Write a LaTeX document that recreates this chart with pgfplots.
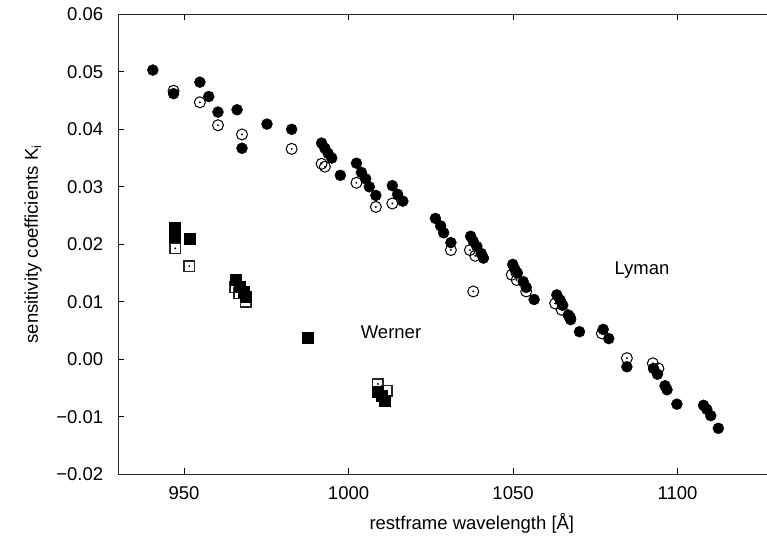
\documentclass[border=0pt]{standalone}
\usepackage{fontspec}
\setmainfont{Liberation Sans}
\usepackage{pgfplots}
\pgfplotsset{compat=1.18}
\usepackage{pgfplotstable}
\pgfplotstableread{
x y
940.5 0.0503
946.8 0.0462
954.8 0.0482
957.5 0.0457
960.3 0.0430
966.1 0.0434
967.6 0.0367
975.2 0.0409
982.7 0.0400
991.8 0.0376
992.8 0.0367
993.8 0.0358
994.9 0.0350
997.5 0.0320
1002.4 0.0341
1003.9 0.0325
1005.2 0.0314
1006.3 0.0300
1008.3 0.0285
1013.3 0.0302
1014.9 0.0287
1016.5 0.0275
1026.4 0.0245
1028.0 0.0232
1028.9 0.0220
1031.1 0.0203
1037.1 0.0214
1037.9 0.0205
1039.0 0.0196
1040.3 0.0184
1041.0 0.0176
1049.9 0.0165
1050.6 0.0156
1051.3 0.0150
1053.1 0.0135
1054.0 0.0125
1056.4 0.0104
1063.3 0.0112
1064.3 0.0103
1065.1 0.0094
1066.8 0.0077
1067.5 0.0069
1070.2 0.0048
1077.4 0.0052
1079.1 0.0036
1084.6 -0.0013
1092.7 -0.0016
1093.9 -0.0026
1096.2 -0.0046
1096.8 -0.0053
1099.8 -0.0078
1107.9 -0.0080
1108.9 -0.0087
1110.1 -0.0098
1112.4 -0.0120
}\lymanfilled
\pgfplotstableread{
x y
946.8 0.0467
954.8 0.0447
960.3 0.0407
967.6 0.0391
982.7 0.0366
991.8 0.0340
992.8 0.0335
1002.4 0.0307
1008.3 0.0265
1013.3 0.0271
1031.1 0.0190
1036.9 0.0190
1038.5 0.0180
1037.9 0.0118
1049.6 0.0147
1051.1 0.0138
1054.0 0.0118
1062.8 0.0097
1064.8 0.0086
1067.3 0.0073
1077.0 0.0045
1084.6 0.0002
1092.5 -0.0007
1094.2 -0.0016
}\lymanopen
\pgfplotstableread{
x y
947.0 0.0228
947.2 0.0213
951.6 0.0209
965.8 0.0139
967.0 0.0127
968.0 0.0118
968.8 0.0108
987.7 0.0037
1008.9 -0.0056
1010.1 -0.0064
1011.1 -0.0072
}\wernerfilled
\pgfplotstableread{
x y
947.3 0.0193
951.6 0.0162
965.5 0.0125
966.8 0.0115
968.8 0.0100
987.7 0.0037
1008.9 -0.0043
1011.6 -0.0055
}\werneropen
\newcommand{\fs}{\fontsize{18.5}{22}\selectfont}
\begin{document}
\begin{tikzpicture}
\begin{axis}[
  at={(0,0)}, anchor=south west,
  scale only axis, width=648.7pt, height=460pt,
  xmin=930, xmax=1127.2, ymin=-0.02, ymax=0.06,
  axis x line=box, axis y line=left,
  axis line style={-, line width=1.2pt, black!85},
  tick align=inside, major tick length=6pt,
  tick style={black, line width=0.8pt},
  scaled x ticks=false, scaled y ticks=false,
  xtick={950,1000,1050,1100},
  xticklabels={950,1000,1050,1100},
  ytick={-0.02,-0.01,0,0.01,0.02,0.03,0.04,0.05,0.06},
  yticklabels={−0.02,−0.01,0.00,0.01,0.02,0.03,0.04,0.05,0.06},
  xticklabel style={font=\fs, inner sep=0pt, anchor=north, yshift=-12.4pt},
  yticklabel style={font=\fs, inner sep=0pt, anchor=east, xshift=-15pt},
  /pgf/number format/assume math mode=true,
  /pgf/number format/1000 sep={},
  xlabel={restframe wavelength [Å]},
  ylabel={sensitivity coefficients K\textsubscript{i}},
  every axis x label/.style={at={(axis description cs:0.545,-0.1059)}, anchor=center, font=\fs},
  every axis y label/.style={at={(axis description cs:-0.1315,0.5)}, rotate=90, anchor=center, font=\fs},
  clip=false,
]
\addplot[only marks, mark=o, mark size=5.5pt, line width=1pt, black] table {\lymanopen};
\addplot[only marks, mark=*, mark size=0.7pt, black] table {\lymanopen};
\addplot[only marks, mark=square, mark size=5.2pt, line width=1.5pt, black!85] table {\werneropen};
\addplot[only marks, mark=*, mark size=0.7pt, black] table {\werneropen};
\addplot[only marks, mark=*, mark size=5.5pt, black] table {\lymanfilled};
\addplot[only marks, mark=square*, mark size=5.5pt, black] table {\wernerfilled};
\node[font=\fs] at (axis cs:1089.2,0.0155) {Lyman};
\node[font=\fs] at (axis cs:1012.9,0.0047) {Werner};
\end{axis}
\pgfresetboundingbox
\path[use as bounding box] (-118.3pt,-65.7pt) rectangle (648.7pt,474.3pt);
\end{tikzpicture}
\end{document}
